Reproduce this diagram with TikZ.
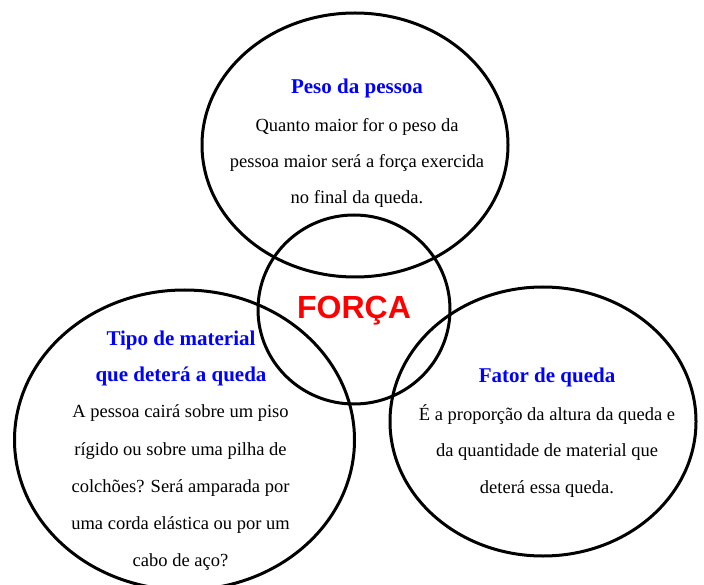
\documentclass[tikz,border=0pt]{standalone}
\usepackage{fontspec}
\setmainfont{Liberation Serif}
\newfontfamily\forcafont{Liberation Sans}
\usetikzlibrary{shapes.geometric}
\definecolor{titleblue}{RGB}{0,0,255}
\definecolor{forcared}{RGB}{255,0,0}
\tikzset{
  ell/.style={draw=black, line width=3pt, ellipse, inner sep=0pt, outer sep=0pt},
  ttl/.style={anchor=base, inner sep=0pt, text=titleblue, font=\fontsize{21}{25}\selectfont\bfseries},
  bdy/.style={anchor=base, inner sep=0pt, text=black, font=\fontsize{18.5}{22}\selectfont},
}
\begin{document}
\begin{tikzpicture}[x=1pt,y=-1pt]
\useasboundingbox (0,0) rectangle (704,585);
% ellipses
\node[ell, minimum width=306pt, minimum height=264pt] (top) at (355,145) {};
\node[ell, minimum width=340pt, minimum height=300pt] (left) at (184.5,440) {};
\node[ell, minimum width=306pt, minimum height=269pt] (right) at (543,421.5) {};
\node[ell, minimum width=192pt, minimum height=189pt] (center) at (354,309.5) {};
% center
\node[anchor=base, inner sep=0pt, text=forcared, font=\forcafont\fontsize{32}{36}\selectfont\bfseries] (forca) at (354,319) {FORÇA};
% top
\node[ttl] (t0) at (357,94) {Peso da pessoa};
\node[bdy] (t1) at (357,131.5) {Quanto maior for o peso da};
\node[bdy] (t2) at (357,167.5) {pessoa maior será a força exercida};
\node[bdy] (t3) at (357,204) {no final da queda.};
% left
\node[ttl] (l0) at (181,345) {Tipo de material};
\node[ttl] (l1) at (181,381.5) {que deterá a queda};
\node[bdy] (l2) at (180.5,417.5) {A pessoa cairá sobre um piso};
\node[bdy] (l3) at (180.5,455) {rígido ou sobre uma pilha de};
\node[bdy] (l4) at (180.5,492) {colchões? Será amparada por};
\node[bdy] (l5) at (180.5,529) {uma corda elástica ou por um};
\node[bdy] (l6) at (180.5,566) {cabo de aço?};
% right
\node[ttl] (r0) at (547,382.5) {Fator de queda};
\node[bdy] (r1) at (547,420) {É a proporção da altura da queda e};
\node[bdy] (r2) at (547,456.5) {da quantidade de material que};
\node[bdy] (r3) at (547,493) {deterá essa queda.};
\end{tikzpicture}
\end{document}
